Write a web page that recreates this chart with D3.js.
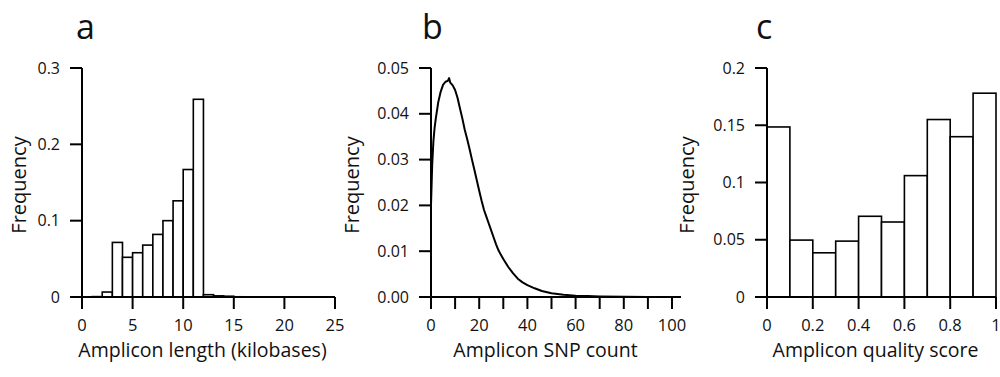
<!DOCTYPE html>
<html>
<head>
<meta charset="utf-8">
<script src="https://cdn.jsdelivr.net/npm/d3@7"></script>
<style>
  body { margin: 0; background: #fff; }
  svg text { font-family: "Open Sans", "Noto Sans", sans-serif; fill: #111; }
</style>
</head>
<body>
<svg id="chart" width="1000" height="377"></svg>
<script>
// panel a: amplicon length histogram (1 kb bins)
var lengthBins = [0,1,2,3,4,5,6,7,8,9,10,11,12,13,14,15,16,17,18,19,20,21,22,23,24];
var lengthFreq = [0,0.0005,0.0065,0.0715,0.052,0.058,0.068,0.082,0.100,0.126,0.167,0.259,0.003,0.0015,0.001,0.0003,0.0002,0.0001,0.0001,0,0,0,0,0,0];
var lengthTicks = [0,5,10,15,20,25];
var lengthYTicks = [0,0.1,0.2,0.3];

// panel b: SNP count distribution (line)
var snpCount = [0,0.5,1,1.5,2,3,4,5,6,7,7.5,8,9,10,11,12,13,14,15,16,17,18,19,20,21,22,23,24,25,26,27,28,29,30,32,34,36,38,40,43,46,50,55,60,65,70,80,90,100];
var snpFreq = [0.020,0.029,0.034,0.037,0.039,0.0425,0.0448,0.0463,0.0470,0.0472,0.0478,0.0468,0.0462,0.0452,0.0435,0.0412,0.039,0.0365,0.0345,0.0323,0.030,0.0278,0.0255,0.0232,0.021,0.019,0.0175,0.016,0.0145,0.013,0.0115,0.0102,0.0092,0.0083,0.0066,0.0052,0.0040,0.0032,0.0026,0.0019,0.0013,0.0008,0.0005,0.0003,0.0002,0.00012,0.00005,0.00002,0];
var snpTicks = [0,10,20,30,40,50,60,70,80,90,100];
var snpTickLabels = [0,20,40,60,80,100];
var snpYTicks = [0,0.01,0.02,0.03,0.04,0.05];

// panel c: quality score histogram (0.1 bins)
var qualBins = [0,0.1,0.2,0.3,0.4,0.5,0.6,0.7,0.8,0.9];
var qualFreq = [0.1485,0.0497,0.0386,0.0488,0.0705,0.0655,0.106,0.155,0.140,0.178];
var qualTicks = [0,0.2,0.4,0.6,0.8,1];
var qualYTicks = [0,0.05,0.1,0.15,0.2];

var svg = d3.select("#chart");
var top0 = 68, bottom0 = 297;
var tickLen = 12;

function makeAxes(g, x, y, opts){
    var x0 = x.range()[0], x1 = x.range()[1];
    // y axis line
    g.append("line")
    .attr("x1", x0).attr("x2", x0)
    .attr("y1", y.range()[1]).attr("y2", y.range()[0])
    .attr("stroke", "#000").attr("stroke-width", 2);
    // x axis line
    g.append("line")
    .attr("x1", x0 - tickLen).attr("x2", opts.xEnd || x1)
    .attr("y1", y(0)).attr("y2", y(0))
    .attr("stroke", "#000").attr("stroke-width", 2);

    g.selectAll(".yt").data(opts.yTicks).enter().append("line")
    .attr("x1", x0 - tickLen).attr("x2", x0)
    .attr("y1", d => y(d)).attr("y2", d => y(d))
    .attr("stroke", "#000").attr("stroke-width", 2);

    g.selectAll(".ytl").data(opts.yTicks).enter().append("text")
    .attr("x", x0 - tickLen - 10)
    .attr("y", d => y(d))
    .attr("dy", "0.35em")
    .attr("text-anchor", "end")
    .style("font-size", "16px")
    .text(opts.yFormat);

    g.selectAll(".xt").data(opts.xTicks).enter().append("line")
    .attr("x1", d => x(d)).attr("x2", d => x(d))
    .attr("y1", y(0)).attr("y2", y(0) + tickLen)
    .attr("stroke", "#000").attr("stroke-width", 2);

    g.selectAll(".xtl").data(opts.xLabels).enter().append("text")
    .attr("x", d => x(d))
    .attr("y", 331)
    .attr("text-anchor", "middle")
    .style("font-size", "16.5px")
    .text(opts.xFormat);

    g.append("text")
    .attr("x", (x0 + x1) / 2 - 6)
    .attr("y", 357)
    .attr("text-anchor", "middle")
    .style("font-size", "19.5px")
    .text(opts.xTitle);

    g.append("text")
    .attr("transform", "translate(" + (opts.yTitleX) + ",185) rotate(-90)")
    .attr("text-anchor", "middle")
    .style("font-size", "20px")
    .text("Frequency");

    g.append("text")
    .attr("x", opts.letterX)
    .attr("y", 39)
    .style("font-size", "34px")
    .text(opts.letter);
}

// ---- panel a
var xa = d3.scaleLinear().domain([0,25]).range([82,335]);
var ya = d3.scaleLinear().domain([0,0.3]).range([bottom0, top0]);
var ga = svg.append("g");
ga.selectAll("rect").data(lengthBins).enter().append("rect")
.attr("x", d => xa(d))
.attr("width", d => xa(d + 1) - xa(d))
.attr("y", (d, i) => ya(lengthFreq[i]))
.attr("height", (d, i) => ya(0) - ya(lengthFreq[i]))
.attr("fill", "#fff").attr("stroke", "#000").attr("stroke-width", 1.6);
makeAxes(ga, xa, ya, {
    yTicks: lengthYTicks, yFormat: d => d === 0 ? "0" : d3.format(".1f")(d),
    xTicks: lengthTicks, xLabels: lengthTicks, xFormat: d => d,
    xTitle: "Amplicon length (kilobases)", yTitleX: 26, letter: "a", letterX: 76
});

// ---- panel b
var xb = d3.scaleLinear().domain([0,100]).range([431,672]);
var yb = d3.scaleLinear().domain([0,0.05]).range([bottom0, top0]);
var gb = svg.append("g");
makeAxes(gb, xb, yb, {
    yTicks: snpYTicks, yFormat: d3.format(".2f"),
    xTicks: snpTicks, xLabels: snpTickLabels, xFormat: d => d, xEnd: 681,
    xTitle: "Amplicon SNP count", yTitleX: 359, letter: "b", letterX: 422
});
gb.append("path")
.datum(d3.zip(snpCount, snpFreq))
.attr("fill", "none").attr("stroke", "#000").attr("stroke-width", 2)
.attr("stroke-linejoin", "round")
.attr("d", d3.line().x(d => xb(d[0])).y(d => yb(d[1])));

// ---- panel c
var xc = d3.scaleLinear().domain([0,1]).range([767,996]);
var yc = d3.scaleLinear().domain([0,0.2]).range([bottom0, top0]);
var gc = svg.append("g");
gc.selectAll("rect").data(qualBins).enter().append("rect")
.attr("x", d => xc(d))
.attr("width", d => xc(d + 0.1) - xc(d))
.attr("y", (d, i) => yc(qualFreq[i]))
.attr("height", (d, i) => yc(0) - yc(qualFreq[i]))
.attr("fill", "#fff").attr("stroke", "#000").attr("stroke-width", 1.6);
makeAxes(gc, xc, yc, {
    yTicks: qualYTicks, yFormat: d => d === 0 ? "0" : String(+d.toFixed(2)),
    xTicks: qualTicks, xLabels: qualTicks, xFormat: d => d === 0 || d === 1 ? String(d) : d3.format(".1f")(d),
    xTitle: "Amplicon quality score", yTitleX: 694, letter: "c", letterX: 756
});
</script>
</body>
</html>
